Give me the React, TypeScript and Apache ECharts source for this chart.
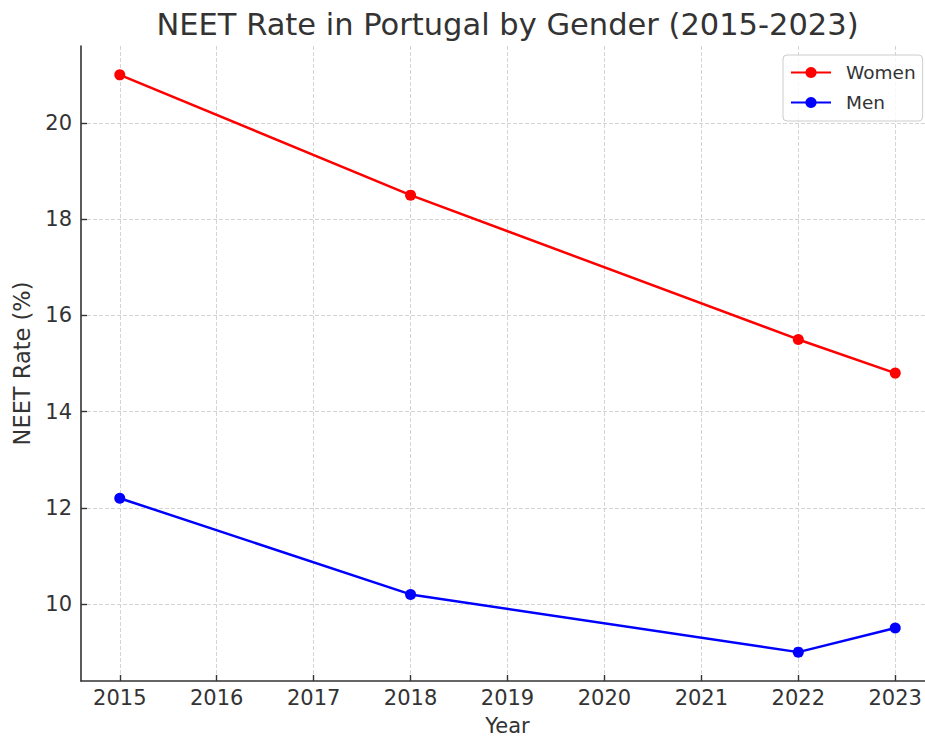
import React, { useEffect, useRef } from "react";
import * as echarts from "echarts";

const years = [2015, 2018, 2022, 2023];
const women = [21.0, 18.5, 15.5, 14.8];
const men = [12.2, 10.2, 9.0, 9.5];
const xTicks = [2015, 2016, 2017, 2018, 2019, 2020, 2021, 2022, 2023];
const yTicks = [10, 12, 14, 16, 18, 20];

const FONT = "DejaVu Sans";
const TEXT = "#333333";
const AXIS = "#333333";

export default function App() {
  const ref = useRef<HTMLDivElement>(null);
  useEffect(() => {
    document.body.style.margin = "0";
    const chart = echarts.init(ref.current!, null, { renderer: "svg" });
    const gridLine = { show: true, lineStyle: { color: "#d4d4d4", width: 1, type: [4, 2] } };
    chart.setOption({
      animation: false,
      backgroundColor: "#ffffff",
      textStyle: { fontFamily: FONT },
      title: {
        text: "NEET Rate in Portugal by Gender (2015-2023)",
        left: 507.5,
        top: 9,
        padding: 0,
        textAlign: "center",
        textStyle: { fontFamily: FONT, fontSize: 30.5, fontWeight: "normal", color: TEXT },
      },
      legend: {
        orient: "vertical",
        left: 783,
        top: 55,
        padding: [8, 7, 9, 7],
        itemWidth: 40,
        itemHeight: 14,
        itemGap: 11,
        borderColor: "#cccccc",
        borderWidth: 1,
        borderRadius: 4,
        backgroundColor: "rgba(255,255,255,0.8)",
        data: ["Women", "Men"],
        textStyle: { fontFamily: FONT, fontSize: 18.5, color: TEXT, padding: [0, 0, 0, 10] },
      },
      grid: { left: 81, top: 46, right: -9, bottom: 57, containLabel: false, outerBoundsMode: "none" },
      xAxis: {
        type: "value",
        min: 2014.6,
        max: 2023.4,
        name: "Year",
        nameLocation: "middle",
        nameGap: 34,
        nameTextStyle: { fontFamily: FONT, fontSize: 21, color: TEXT },
        axisLine: { show: true, lineStyle: { color: AXIS, width: 1.6 } },
        axisTick: { show: true, inside: true, length: 6, customValues: xTicks, lineStyle: { color: AXIS, width: 1.4 } },
        axisLabel: {
          customValues: xTicks,
          margin: 6,
          fontFamily: FONT,
          fontSize: 21,
          color: TEXT,
          formatter: (v: number) => String(v),
        },
        splitLine: gridLine,
      },
      yAxis: {
        type: "value",
        min: 8.4,
        max: 21.6,
        name: "NEET Rate (%)",
        nameLocation: "middle",
        nameGap: 48,
        nameTextStyle: { fontFamily: FONT, fontSize: 22.5, color: TEXT },
        axisLine: { show: true, lineStyle: { color: AXIS, width: 1.6 } },
        axisTick: { show: true, inside: true, length: 6, customValues: yTicks, lineStyle: { color: AXIS, width: 1.4 } },
        axisLabel: {
          customValues: yTicks,
          margin: 9,
          fontFamily: FONT,
          fontSize: 21,
          color: TEXT,
          formatter: (v: number) => String(v),
        },
        splitLine: gridLine,
      },
      series: [
        {
          name: "Women",
          type: "line",
          data: years.map((y, i) => [y, women[i]]),
          symbol: "circle",
          symbolSize: 11,
          color: "#ff0000",
          lineStyle: { color: "#ff0000", width: 2.5 },
          itemStyle: { color: "#ff0000" },
          z: 3,
        },
        {
          name: "Men",
          type: "line",
          data: years.map((y, i) => [y, men[i]]),
          symbol: "circle",
          symbolSize: 11,
          color: "#0000ff",
          lineStyle: { color: "#0000ff", width: 2.5 },
          itemStyle: { color: "#0000ff" },
          z: 3,
        },
      ],
    });
    return () => chart.dispose();
  }, []);
  return (
    <div
      ref={ref}
      style={{ position: "absolute", left: 0, top: 0, width: 925, height: 738 }}
    />
  );
}
